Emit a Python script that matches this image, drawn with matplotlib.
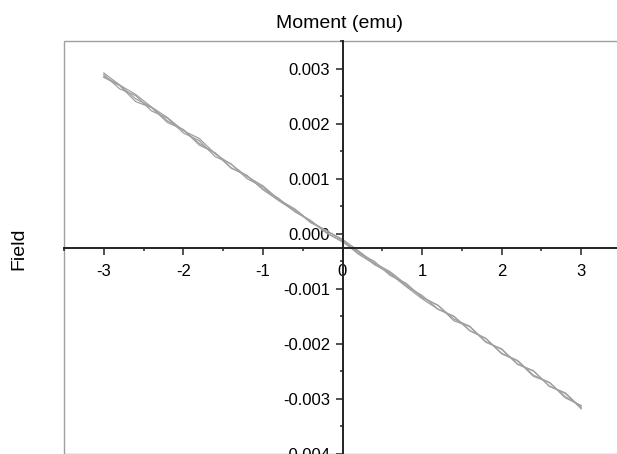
import numpy as np
import matplotlib.pyplot as plt
from matplotlib.ticker import MultipleLocator, FuncFormatter
from matplotlib.patches import Rectangle

plt.rcParams['font.family'] = ['Liberation Sans', 'DejaVu Sans']
plt.rcParams['axes.unicode_minus'] = False

# field sweep points
field = [-3.0, -2.8, -2.6, -2.4, -2.2, -2.0, -1.8, -1.6, -1.4, -1.2, -1.0,
         -0.8, -0.6, -0.4, -0.2, 0.0, 0.2, 0.4, 0.6, 0.8, 1.0,
         1.2, 1.4, 1.6, 1.8, 2.0, 2.2, 2.4, 2.6, 2.8, 3.0]

# moment of each sweep, in units of 1e-4 emu
sweep_1 = [29.2, 27.0, 25.3, 23.0, 21.1, 18.7, 17.3, 14.5, 12.6, 10.4, 8.7,
           6.2, 4.5, 2.2, 0.5, -1.0, -3.1, -5.3, -6.9, -9.2, -11.5,
           -13.0, -15.5, -16.8, -19.6, -21.0, -23.7, -24.9, -27.7, -28.9, -31.6]
sweep_2 = [28.4, 26.9, 24.0, 22.9, 20.2, 18.9, 16.1, 14.7, 11.9, 10.6, 8.0,
           6.0, 4.1, 2.3, 0.1, -1.4, -3.7, -5.5, -7.3, -9.6, -11.8,
           -13.7, -15.0, -17.6, -19.0, -21.8, -23.1, -25.9, -27.0, -29.8, -31.2]
sweep_3 = [28.9, 26.3, 25.1, 22.3, 21.0, 18.3, 16.9, 14.0, 12.7, 10.0, 8.5,
           6.1, 4.4, 2.0, 0.6, -1.2, -3.5, -5.0, -7.6, -9.0, -11.6,
           -13.0, -15.8, -16.9, -19.7, -20.9, -23.7, -24.9, -27.7, -29.0, -31.8]
sweep_4 = [28.6, 27.0, 24.5, 23.0, 20.5, 18.9, 16.4, 14.6, 12.0, 10.5, 8.1,
           6.4, 4.0, 2.4, 0.2, -1.5, -3.2, -5.6, -7.1, -9.5, -11.2,
           -13.7, -15.0, -17.6, -19.0, -21.7, -23.0, -25.7, -27.0, -29.6, -31.3]

fig = plt.figure(figsize=(6.17, 4.54), dpi=100)
ax = fig.add_axes([64 / 617, 0.0, 557 / 617, 413 / 454])

for sweep in [sweep_1, sweep_2, sweep_3, sweep_4]:
    ax.plot(field, np.array(sweep) * 1e-4, color='#a0a0a0', lw=0.9)

# light grey frame around the plot area
ax.add_patch(Rectangle((0, 0), 1, 1, transform=ax.transAxes, fill=False,
                       ec='#a0a0a0', lw=1.0, clip_on=False, zorder=0))

ax.set_xlim(-3.5, 3.5)
ax.set_ylim(-0.004, 0.0035)

# axes crossing inside the plot
ax.spines['left'].set_position(('data', 0))
ax.spines['bottom'].set_position(('axes', 0.5))
ax.spines['top'].set_visible(False)
ax.spines['right'].set_visible(False)
for s in ['left', 'bottom']:
    ax.spines[s].set_linewidth(1.4)
    ax.spines[s].set_color('#222222')

ax.xaxis.set_major_locator(MultipleLocator(1))
ax.xaxis.set_minor_locator(MultipleLocator(0.5))
ax.yaxis.set_major_locator(MultipleLocator(0.001))
ax.yaxis.set_minor_locator(MultipleLocator(0.0005))
ax.xaxis.set_major_formatter(FuncFormatter(lambda v, p: '%d' % round(v)))
ax.yaxis.set_major_formatter(FuncFormatter(lambda v, p: '%.3f' % (0 if abs(v) < 1e-9 else v)))

ax.tick_params(which='major', length=5, width=1.1, color='#222222', labelsize=12)
ax.tick_params(which='minor', length=2.5, width=1.1, color='#222222')
ax.tick_params(axis='x', which='both', direction='out', pad=7)
ax.tick_params(axis='y', which='both', direction='out', pad=4)

fig.text(340 / 617, 1 - 28 / 454, 'Moment (emu)', ha='center', va='baseline', fontsize=14)
fig.text(18.5 / 617, 1 - 249 / 454, 'Field', rotation=90, ha='center', va='center', fontsize=14)

fig.savefig('out.png', dpi=100)
